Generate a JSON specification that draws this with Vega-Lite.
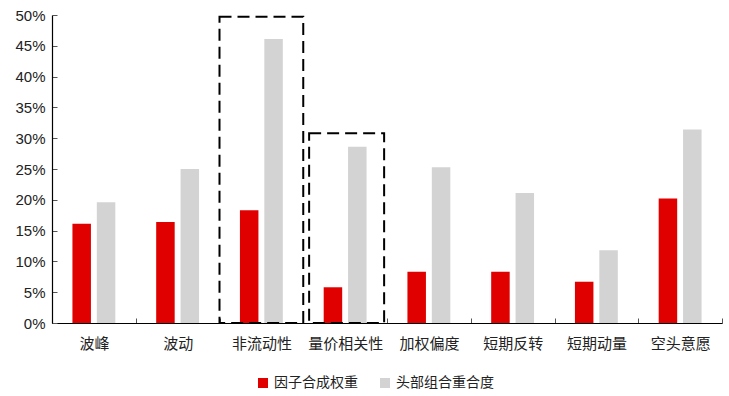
{
  "$schema": "https://vega.github.io/schema/vega-lite/v6.json",
  "width": 670,
  "height": 308,
  "autosize": {"type": "none"},
  "padding": {"left": 52, "top": 15, "right": 7, "bottom": 73},
  "config": {
    "view": {"stroke": null},
    "font": "Noto Sans CJK SC",
    "axis": {"labelFont": "Noto Sans CJK SC", "labelColor": "#222222", "domainColor": "#000000", "tickColor": "#555555", "grid": false, "title": null}
  },
  "datasets": {
    "bars": [
      {"cat": "波峰", "series": "因子合成权重", "value": 0.161},
      {"cat": "波峰", "series": "头部组合重合度", "value": 0.196},
      {"cat": "波动", "series": "因子合成权重", "value": 0.164},
      {"cat": "波动", "series": "头部组合重合度", "value": 0.250},
      {"cat": "非流动性", "series": "因子合成权重", "value": 0.183},
      {"cat": "非流动性", "series": "头部组合重合度", "value": 0.461},
      {"cat": "量价相关性", "series": "因子合成权重", "value": 0.058},
      {"cat": "量价相关性", "series": "头部组合重合度", "value": 0.286},
      {"cat": "加权偏度", "series": "因子合成权重", "value": 0.083},
      {"cat": "加权偏度", "series": "头部组合重合度", "value": 0.253},
      {"cat": "短期反转", "series": "因子合成权重", "value": 0.083},
      {"cat": "短期反转", "series": "头部组合重合度", "value": 0.211},
      {"cat": "短期动量", "series": "因子合成权重", "value": 0.067},
      {"cat": "短期动量", "series": "头部组合重合度", "value": 0.118},
      {"cat": "空头意愿", "series": "因子合成权重", "value": 0.202},
      {"cat": "空头意愿", "series": "头部组合重合度", "value": 0.314}
    ],
    "box1": [{"cat": "非流动性", "base": 0, "value": 0.497}],
    "box2": [{"cat": "量价相关性", "base": 0, "value": 0.308}]
  },
  "encoding": {
    "x": {
      "field": "cat", "type": "nominal",
      "sort": ["波峰", "波动", "非流动性", "量价相关性", "加权偏度", "短期反转", "短期动量", "空头意愿"],
      "scale": {"domain": ["波峰", "波动", "非流动性", "量价相关性", "加权偏度", "短期反转", "短期动量", "空头意愿"], "paddingInner": 0, "paddingOuter": 0},
      "axis": {"labelAngle": 0, "labelFontSize": 15, "tickBand": "extent", "tickSize": -5, "labelPadding": 18, "domainWidth": 1.2}
    },
    "y": {
      "field": "value", "type": "quantitative",
      "scale": {"domain": [0, 0.5], "nice": false},
      "axis": {"format": ".0%", "values": [0, 0.05, 0.1, 0.15, 0.2, 0.25, 0.3, 0.35, 0.4, 0.45, 0.5], "labelOverlap": false, "labelFont": "Liberation Sans", "labelFontSize": 15, "tickSize": -5, "labelPadding": 12, "domainWidth": 1.2}
    }
  },
  "layer": [
    {
      "data": {"name": "bars"},
      "mark": {"type": "bar", "width": 18.5},
      "encoding": {
        "xOffset": {
          "field": "series", "type": "nominal",
          "sort": ["因子合成权重", "头部组合重合度"],
          "scale": {"paddingInner": 0.245, "paddingOuter": 0.84}
        },
        "color": {
          "field": "series", "type": "nominal",
          "sort": ["因子合成权重", "头部组合重合度"],
          "scale": {"domain": ["因子合成权重", "头部组合重合度"], "range": ["#E00000", "#D3D3D3"]},
          "legend": {"orient": "none", "legendX": 204, "legendY": 361, "direction": "horizontal", "title": null, "symbolType": "square", "symbolSize": 100, "symbolStrokeWidth": 0, "labelFontSize": 14, "labelColor": "#222222", "columnPadding": 20}
        }
      }
    },
    {
      "data": {"name": "box1"},
      "mark": {"type": "rect", "fill": null, "fillOpacity": 0, "stroke": "#000000", "strokeWidth": 2, "strokeDash": [12, 6]},
      "encoding": {
        "y2": {"field": "base"}
      }
    },
    {
      "data": {"name": "box2"},
      "mark": {"type": "rect", "width": 75, "fill": null, "fillOpacity": 0, "stroke": "#000000", "strokeWidth": 2, "strokeDash": [12, 6], "xOffset": 1.5},
      "encoding": {
        "y2": {"field": "base"}
      }
    }
  ]
}
